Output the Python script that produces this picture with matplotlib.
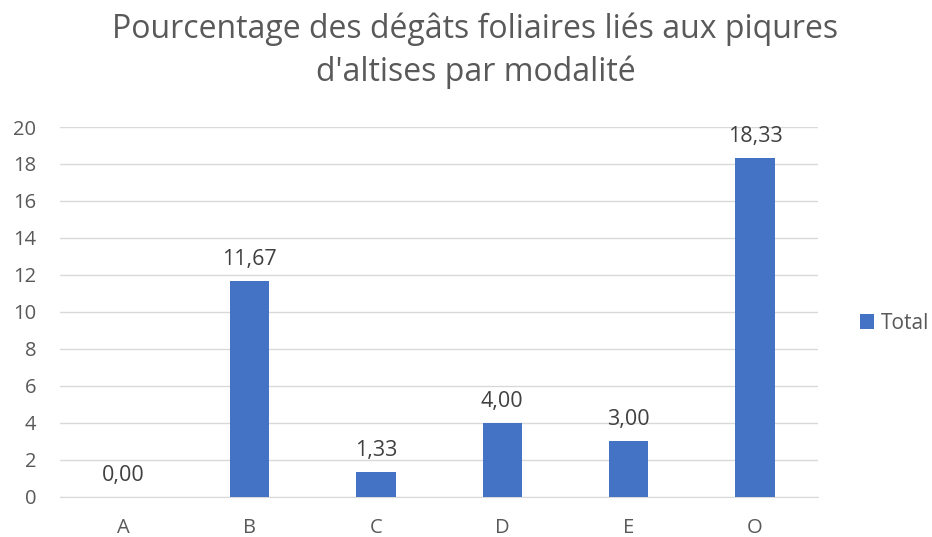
import matplotlib.pyplot as plt
import numpy as np

categories = ["A", "B", "C", "D", "E", "O"]
totals = [0.00, 11.67, 1.33, 4.00, 3.00, 18.33]
y_ticks = list(range(0, 21, 2))

plt.rcParams['font.family'] = ['Open Sans', 'DejaVu Sans']
text_color = '#595959'
grid_color = '#D9D9D9'

fig = plt.figure(figsize=(9.32, 5.37), dpi=100)
ax = fig.add_axes([0.0644, 0.0745, 0.8135, 0.689])

x = np.arange(len(categories))
bars = ax.bar(x, totals, width=0.31, color='#4472C4', label='Total', zorder=3)

for xi, val in zip(x, totals):
    ax.annotate(f"{val:.2f}".replace('.', ','), (xi, val), xytext=(0, 8),
                textcoords='offset points', ha='center', va='bottom',
                fontsize=15.5, color='#404040')

ax.set_xlim(-0.5, len(categories) - 0.5)
ax.set_ylim(0, 20)
ax.set_yticks(y_ticks)
ax.set_xticks(x)
ax.set_xticklabels(categories)
ax.yaxis.grid(True, color=grid_color, linewidth=1, zorder=0)
for s in ['top', 'right', 'left']:
    ax.spines[s].set_visible(False)
ax.spines['bottom'].set_color(grid_color)
ax.tick_params(axis='both', length=0, labelsize=14.5, colors=text_color)
ax.tick_params(axis='y', pad=17)
ax.tick_params(axis='x', pad=15)

fig.text(0.51, 0.905, "Pourcentage des dégâts foliaires liés aux piqures\nd'altises par modalité",
         ha='center', va='center', fontsize=23, color=text_color, linespacing=1.38)

ax.legend(loc='center left', bbox_to_anchor=(1.0, 0.47), frameon=False,
          fontsize=15, handlelength=0.7, handleheight=0.7, handletextpad=0.3,
          labelcolor=text_color, borderaxespad=1.6)

plt.savefig("out.png")
